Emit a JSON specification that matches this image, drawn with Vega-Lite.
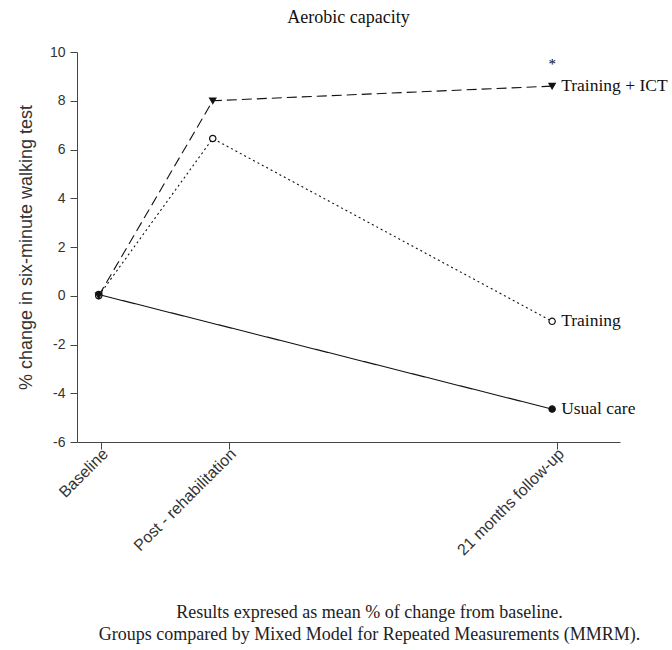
{
  "$schema": "https://vega.github.io/schema/vega-lite/v6.json",
  "autosize": {"type": "none"},
  "width": 543,
  "height": 390,
  "padding": {"left": 77, "top": 52, "right": 52, "bottom": 208},
  "background": "white",
  "title": {
    "text": "Aerobic capacity",
    "font": "Liberation Serif",
    "fontSize": 18,
    "fontWeight": "normal",
    "color": "#111",
    "anchor": "middle",
    "offset": 18
  },
  "config": {
    "view": {"stroke": null},
    "axis": {"grid": false, "domainColor": "#444", "tickColor": "#444", "labelColor": "#333", "labelFont": "Liberation Sans", "labelFontSize": 14, "titleFont": "Liberation Sans", "titleFontWeight": "normal", "titleColor": "#333"}
  },
  "data": {
    "values": [
      {"group": "Usual care", "time": "Baseline", "pos": 4, "value": 0.05, "last": false},
      {"group": "Usual care", "time": "21 months follow-up", "pos": 87.5, "value": -4.65, "last": true},
      {"group": "Training", "time": "Baseline", "pos": 4, "value": 0.0, "last": false},
      {"group": "Training", "time": "Post - rehabilitation", "pos": 25, "value": 6.45, "last": false},
      {"group": "Training", "time": "21 months follow-up", "pos": 87.5, "value": -1.05, "last": true},
      {"group": "Training + ICT", "time": "Baseline", "pos": 4, "value": 0.0, "last": false},
      {"group": "Training + ICT", "time": "Post - rehabilitation", "pos": 25, "value": 8.0, "last": false},
      {"group": "Training + ICT", "time": "21 months follow-up", "pos": 87.5, "value": 8.6, "last": true}
    ]
  },
  "encoding": {
    "x": {
      "field": "pos",
      "type": "quantitative",
      "scale": {"domain": [0, 100], "nice": false, "zero": false},
      "axis": {
        "values": [4.4, 28, 88.4],
        "labelExpr": "datum.value < 10 ? 'Baseline' : datum.value < 50 ? 'Post - rehabilitation' : '21 months follow-up'",
        "labelAngle": -45,
        "labelAlign": "right",
        "labelBaseline": "middle",
        "labelPadding": 2,
        "labelFontSize": 16,
        "labelOffset": 4,
        "tickSize": 7,
        "title": ["Results expresed as mean % of change from baseline.", "Groups compared by Mixed Model for Repeated Measurements (MMRM)."],
        "titleFont": "Liberation Serif",
        "titleFontSize": 18,
        "titleColor": "#222",
        "titleBaseline": "top",
        "titleY": 161,
        "titleX": 292,
        "titleLineHeight": 22
      }
    },
    "y": {
      "field": "value",
      "type": "quantitative",
      "scale": {"domain": [-6, 10], "nice": false},
      "axis": {
        "values": [-6, -4, -2, 0, 2, 4, 6, 8, 10],
        "labelExpr": "'' + datum.value",
        "tickSize": 7,
        "labelPadding": 5,
        "title": "% change in six-minute walking test",
        "titleFontSize": 18,
        "titlePadding": 14
      }
    }
  },
  "layer": [
    {
      "mark": {"type": "line", "color": "#111", "strokeWidth": 1.1},
      "encoding": {
        "detail": {"field": "group"},
        "strokeDash": {
          "field": "group",
          "type": "nominal",
          "scale": {"domain": ["Training + ICT", "Training", "Usual care"], "range": [[10, 5], [2, 3], [1, 0]]},
          "legend": null
        }
      }
    },
    {
      "mark": {"type": "point", "stroke": "#111", "strokeWidth": 1.2, "opacity": 1, "filled": false},
      "encoding": {
        "shape": {
          "field": "group",
          "type": "nominal",
          "scale": {"domain": ["Training + ICT", "Training", "Usual care"], "range": ["triangle-down", "circle", "circle"]},
          "legend": null
        },
        "fill": {
          "field": "group",
          "type": "nominal",
          "scale": {"domain": ["Training + ICT", "Training", "Usual care"], "range": ["#111", "white", "#111"]},
          "legend": null
        },
        "size": {"value": 40}
      }
    },
    {
      "transform": [{"filter": "datum.last"}],
      "mark": {"type": "text", "align": "left", "baseline": "middle", "dx": 9, "font": "Liberation Serif", "fontSize": 17.5, "color": "#111"},
      "encoding": {"text": {"field": "group"}}
    },
    {
      "transform": [{"filter": "datum.last && datum.group == 'Training + ICT'"}],
      "mark": {"type": "text", "align": "center", "baseline": "middle", "dy": -22, "font": "Liberation Serif", "fontSize": 15, "fill": "#000", "text": "*"},
      "encoding": {}
    }
  ]
}
